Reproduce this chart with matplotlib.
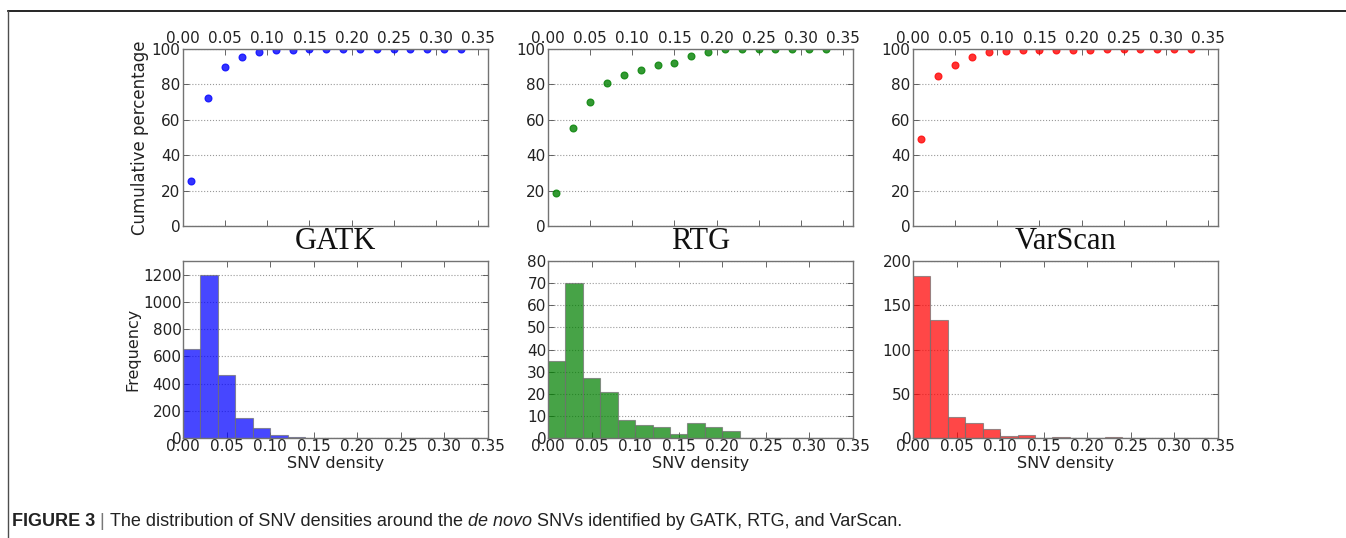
import numpy as np
import matplotlib
matplotlib.use("Agg")
import matplotlib.pyplot as plt
from matplotlib.lines import Line2D

# bin layout of the histograms (SNV density)
bin_edges = [round(0.02 * i, 2) for i in range(17)]
bin_centers = [round(0.01 + 0.02 * i, 2) for i in range(17)]

tools = ["GATK", "RTG", "VarScan"]
colors = ["b", "g", "r"]

# cumulative percentage (top row)
cum_gatk = [25.5, 72.2, 90.1, 95.6, 98.5, 99.5, 99.7, 99.8, 99.9, 99.9, 99.9, 99.9, 99.9, 99.9, 100, 100, 100]
cum_rtg = [18.5, 55.5, 69.8, 81.0, 85.2, 88.4, 91.0, 92.1, 95.8, 98.4, 100, 100, 100, 100, 100, 100, 100]
cum_varscan = [48.9, 84.5, 90.9, 95.5, 98.1, 98.7, 99.5, 99.5, 99.7, 99.7, 99.7, 100, 100, 100, 100, 100, 100]

# frequency per bin (bottom row)
freq_gatk = [655, 1200, 460, 145, 70, 25, 5, 3, 2, 0, 0, 0, 0, 0, 0, 1, 0]
freq_rtg = [35, 70, 27, 21, 8, 6, 5, 2, 7, 5, 3, 0, 0, 0, 0, 0, 0]
freq_varscan = [183, 133, 24, 17, 10, 2, 3, 0, 1, 0, 0, 1, 0, 0, 0, 0, 0]

cum_data = [cum_gatk, cum_rtg, cum_varscan]
freq_data = [freq_gatk, freq_rtg, freq_varscan]
freq_ylim = [1300, 80, 200]
freq_yticks = [np.arange(0, 1201, 200), np.arange(0, 81, 10), np.arange(0, 201, 50)]

xticks = np.arange(0, 0.351, 0.05)
xticklabels = ["%.2f" % t for t in xticks]

W, H = 1346, 538
fig = plt.figure(figsize=(W / 100, H / 100), dpi=100)

lefts = [183, 548, 913]
axw = 305
top_row = (49, 226)
bot_row = (261, 438)


def px_axes(left, top, bottom):
    return fig.add_axes([left / W, 1 - bottom / H, axw / W, (bottom - top) / H])


def style(ax):
    for s in ax.spines.values():
        s.set_color("0.45")
        s.set_linewidth(1.0)
    ax.tick_params(direction="in", length=4, width=0.6, colors="0.3",
                   labelcolor="#222222", labelsize=11, right=True, top=True)
    ax.yaxis.grid(True, linestyle=":", color="0.6", linewidth=0.8)
    ax.set_axisbelow(True)


for i in range(3):
    # top: cumulative percentage
    ax = px_axes(lefts[i], *top_row)
    ax.plot(bin_centers, cum_data[i], "o", color=colors[i], alpha=0.8,
            markersize=5, markeredgewidth=0.8)
    ax.set_xlim(0, 0.362)
    ax.set_ylim(0, 100)
    ax.set_yticks(np.arange(0, 101, 20))
    ax.set_xticks(xticks)
    ax.set_xticklabels(xticklabels)
    style(ax)
    ax.tick_params(labeltop=True, labelbottom=False, pad=2)
    if i == 0:
        ax.set_ylabel("Cumulative percentage", fontsize=12, color="#222222", labelpad=2)
    ax.text(0.5, -0.09, tools[i], transform=ax.transAxes, ha="center", va="center",
            fontsize=22, family="Liberation Serif", color="#111111")

    # bottom: histogram of SNV density
    ax = px_axes(lefts[i], *bot_row)
    ax.bar(bin_edges, freq_data[i], width=0.02, align="edge", color=colors[i],
           alpha=0.72, edgecolor="0.45", linewidth=0.8)
    ax.set_xlim(0, 0.35)
    ax.set_ylim(0, freq_ylim[i])
    ax.set_yticks(freq_yticks[i])
    ax.set_xticks(xticks)
    ax.set_xticklabels(xticklabels)
    style(ax)
    ax.tick_params(pad=1)
    ax.set_xlabel("SNV density", fontsize=11.5, color="#222222", labelpad=1)
    if i == 0:
        ax.set_ylabel("Frequency", fontsize=11.5, color="#222222", labelpad=2)

# frame around the panel
fig.add_artist(Line2D([8 / W, 1], [1 - 11 / H, 1 - 11 / H], transform=fig.transFigure,
                      color="black", linewidth=1.2))
fig.add_artist(Line2D([8 / W, 8 / W], [0, 1 - 11 / H], transform=fig.transFigure,
                      color="0.3", linewidth=1.0))

# caption, pieces placed one after another
pieces = [("FIGURE 3", "bold", "normal", "#222222"),
          (" | ", "normal", "normal", "#777777"),
          ("The distribution of SNV densities around the ", "normal", "normal", "#222222"),
          ("de novo", "normal", "italic", "#222222"),
          (" SNVs identified by GATK, RTG, and VarScan.", "normal", "normal", "#222222")]
renderer = fig.canvas.get_renderer()
x = 12 / W
y = 1 - 521 / H
for txt, weight, style_, col in pieces:
    t = fig.text(x, y, txt, fontsize=13, family="Liberation Sans", weight=weight,
                 style=style_, color=col, va="center", ha="left")
    bb = t.get_window_extent(renderer=renderer)
    x = bb.x1 / W

fig.savefig("out.png", dpi=100)
